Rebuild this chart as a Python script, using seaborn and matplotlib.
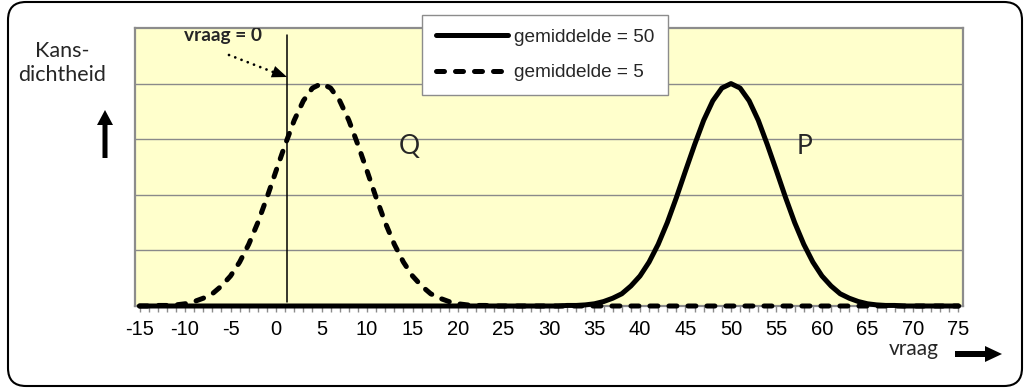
import matplotlib
matplotlib.use("Agg")
import matplotlib.pyplot as plt
import seaborn as sns
import pandas as pd
from matplotlib.ticker import MultipleLocator, NullFormatter
from matplotlib.patches import FancyBboxPatch, FancyArrow
from matplotlib.lines import Line2D
from matplotlib.transforms import Affine2D

# ---------------- data ----------------
vraag = list(range(-15, 76))

# kansdichtheid, gemiddelde = 5 (curve Q, dashed)
dichtheid_q = [
    0.00, 0.00, 0.01, 0.01, 0.02,      # -15 .. -11
    0.04, 0.08, 0.14, 0.22, 0.36,      # -10 .. -6
    0.54, 0.79, 1.11, 1.50, 1.95,      # -5 .. -1
    2.43, 2.90, 3.34, 3.69, 3.92,      # 0 .. 4
    4.00, 3.92, 3.69, 3.34, 2.90,      # 5 .. 9
    2.43, 1.95, 1.50, 1.11, 0.79,      # 10 .. 14
    0.54, 0.36, 0.22, 0.14, 0.08,      # 15 .. 19
    0.04, 0.02, 0.01, 0.01, 0.00,      # 20 .. 24
    0, 0, 0, 0, 0, 0, 0, 0, 0, 0,      # 25 .. 34
    0, 0, 0, 0, 0, 0, 0, 0, 0, 0,      # 35 .. 44
    0, 0, 0, 0, 0, 0, 0, 0, 0, 0,      # 45 .. 54
    0, 0, 0, 0, 0, 0, 0, 0, 0, 0,      # 55 .. 64
    0, 0, 0, 0, 0, 0, 0, 0, 0, 0,      # 65 .. 74
    0,                                 # 75
]

# kansdichtheid, gemiddelde = 50 (curve P, solid)
dichtheid_p = [
    0, 0, 0, 0, 0, 0, 0, 0, 0, 0,      # -15 .. -6
    0, 0, 0, 0, 0, 0, 0, 0, 0, 0,      # -5 .. 4
    0, 0, 0, 0, 0, 0, 0, 0, 0, 0,      # 5 .. 14
    0, 0, 0, 0, 0, 0, 0, 0, 0, 0,      # 15 .. 24
    0, 0, 0, 0, 0,                     # 25 .. 29
    0.00, 0.00, 0.01, 0.01, 0.02,      # 30 .. 34
    0.04, 0.08, 0.14, 0.22, 0.36,      # 35 .. 39
    0.54, 0.79, 1.11, 1.50, 1.95,      # 40 .. 44
    2.43, 2.90, 3.34, 3.69, 3.92,      # 45 .. 49
    4.00, 3.92, 3.69, 3.34, 2.90,      # 50 .. 54
    2.43, 1.95, 1.50, 1.11, 0.79,      # 55 .. 59
    0.54, 0.36, 0.22, 0.14, 0.08,      # 60 .. 64
    0.04, 0.02, 0.01, 0.01, 0.00,      # 65 .. 69
    0, 0, 0, 0, 0, 0,                  # 70 .. 75
]

label_p = "gemiddelde = 50"
label_q = "gemiddelde = 5"
vraag_nul = 1.25          # position of the "vraag = 0" marker line as drawn
grid_levels = [1, 2, 3, 4]

# ---------------- figure ----------------
sns.set_style("white")
plt.rcParams["font.family"] = ["Liberation Sans", "DejaVu Sans"]
plt.rcParams["axes.unicode_minus"] = False
CAL = ["Lato", "DejaVu Sans"]

W, H = 1024, 388
fig = plt.figure(figsize=(W / 100, H / 100), dpi=100)
px = Affine2D().scale(1 / W, -1 / H).translate(0, 1) + fig.transFigure

ax = fig.add_axes([135 / W, 1 - 306 / H, 828 / W, 278 / H])
ax.set_facecolor("#FFFFCC")

df = pd.DataFrame({"vraag": vraag, "Q": dichtheid_q, "P": dichtheid_p})

LW = 3.6
sns.lineplot(data=df, x="vraag", y="Q", ax=ax, color="black", lw=LW,
             linestyle=(0, (1.6, 2.2)), dash_capstyle="round",
             label=label_q, clip_on=False, zorder=4)
sns.lineplot(data=df, x="vraag", y="P", ax=ax, color="black", lw=LW,
             solid_capstyle="round", solid_joinstyle="round",
             label=label_p, clip_on=False, zorder=5)

ax.set_xlim(-15.5, 75.5)
ax.set_ylim(0, 5)
ax.set_xlabel("")
ax.set_ylabel("")

ax.xaxis.set_major_locator(MultipleLocator(5))
ax.xaxis.set_minor_locator(MultipleLocator(1))
ax.xaxis.set_minor_formatter(NullFormatter())
ax.tick_params(axis="x", which="both", direction="out", length=4, width=1,
               color="#8c8c8c", labelsize=14.5, pad=6, bottom=True,
               labelcolor="black")
ax.set_yticks(grid_levels)
ax.tick_params(axis="y", left=False, labelleft=False)
ax.grid(axis="y", color="#8a8a8a", lw=1.0)
ax.grid(axis="x", visible=False)
for s in ax.spines.values():
    s.set_visible(True)
    s.set_color("#8c8c8c")
    s.set_linewidth(1.6)

# vraag = 0 marker line
ax.plot([vraag_nul, vraag_nul], [0.07, 4.88], color="black", lw=1.1, zorder=3)

# curve names
ax.text(14.6, 2.86, "Q", fontsize=19, family=CAL, ha="center", va="center")
ax.text(58.1, 2.87, "P", fontsize=19, family=CAL, ha="center", va="center")

# "vraag = 0" label, clipped by the plot area
ax.text(223, 41, "vraag = 0", transform=px, fontsize=13.8, fontweight="bold",
        family=CAL, ha="center", va="baseline", clip_on=True)

# dotted arrow pointing to the marker line
fig.add_artist(Line2D([229, 273], [55, 72], transform=px, color="black",
                      lw=2.0, linestyle=(0, (0.01, 2.4)),
                      dash_capstyle="round"))
fig.add_artist(FancyArrow(229, 55, 58, 22, width=0.01, head_width=12,
                          head_length=15, length_includes_head=True,
                          transform=px, color="black", lw=0))

# legend
handles, labels = ax.get_legend_handles_labels()
order = [labels.index(label_p), labels.index(label_q)]
leg = ax.legend([handles[i] for i in order], [labels[i] for i in order],
                loc="upper left", bbox_to_anchor=(422 / W, 1 - 15 / H),
                bbox_transform=fig.transFigure, borderaxespad=0,
                frameon=True, fancybox=False, framealpha=1,
                edgecolor="#8c8c8c", fontsize=13.7, handlelength=3.8,
                handletextpad=0.3, labelspacing=0.95, borderpad=0.72)
leg.get_frame().set_linewidth(1.0)
leg.set_zorder(10)

# axis captions
fig.text(62.5, 63, "Kans-\ndichtheid", transform=px, fontsize=15.5,
         family=CAL, ha="center", va="center",
         multialignment="center", linespacing=1.3)
fig.text(914, 349, "vraag", transform=px, fontsize=15, family=CAL,
         ha="center", va="center")

# arrows
fig.add_artist(FancyArrow(105, 158, 0, -48, width=5, head_width=16,
                          head_length=15, length_includes_head=True,
                          transform=px, color="black", lw=0))
fig.add_artist(FancyArrow(955, 354, 47, 0, width=6, head_width=16,
                          head_length=17, length_includes_head=True,
                          transform=px, color="black", lw=0))

# rounded outer border
fig.add_artist(FancyBboxPatch((8, 2), 1014, 384,
                              boxstyle="round,pad=0,rounding_size=18",
                              transform=px, fill=False, ec="black", lw=1.5))

fig.savefig("out.png", dpi=100, facecolor="white")
